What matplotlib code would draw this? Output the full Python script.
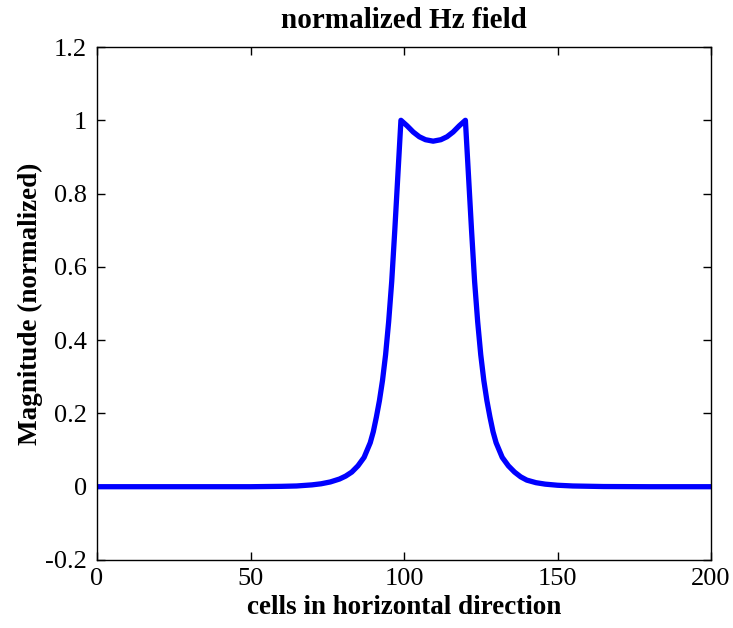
import matplotlib
matplotlib.use("Agg")
import matplotlib.pyplot as plt
from matplotlib.ticker import FixedLocator, FuncFormatter

# Data (cell index, normalized magnitude)
cells = [0, 20, 40, 50, 60, 65, 70, 73, 76, 79, 81, 83, 85, 87, 88, 89, 90, 91, 92,
         93, 94, 95, 96, 97, 98, 99,
         101, 103, 105, 107, 109.5, 112, 114, 116, 118, 120,
         121, 122, 123, 124, 125, 126, 127, 128, 129, 130, 131, 132, 134, 136, 138,
         140, 143, 146, 150, 155, 165, 180, 200]
magnitude = [0.0, 0.0, 0.0, 0.0, 0.001, 0.002, 0.005, 0.008, 0.013, 0.021, 0.029, 0.040,
             0.057, 0.080, 0.100, 0.120, 0.150, 0.190, 0.235,
             0.290, 0.360, 0.450, 0.560, 0.700, 0.850, 1.000,
             0.985, 0.968, 0.955, 0.947, 0.943, 0.947, 0.955, 0.968, 0.985, 1.000,
             0.850, 0.700, 0.560, 0.450, 0.360, 0.290, 0.235, 0.190, 0.150, 0.120, 0.100,
             0.080, 0.057, 0.040, 0.027, 0.018, 0.011, 0.007, 0.004, 0.002, 0.0005, 0.0, 0.0]

x_ticks = [0, 50, 100, 150, 200]
y_ticks = [-0.2, 0, 0.2, 0.4, 0.6, 0.8, 1.0, 1.2]

title = "normalized Hz field"
xlabel = "cells in horizontal direction"
ylabel = "Magnitude (normalized)"

fig = plt.figure(figsize=(7.33, 6.28), dpi=100)
ax = fig.add_axes([97/733, 68/628, (711-97)/733, (560-47)/628])

ax.plot(cells, magnitude, color=(0, 0, 1), linewidth=3.8, solid_joinstyle="round")

ax.set_xlim(0, 200)
ax.set_ylim(-0.2, 1.2)
ax.xaxis.set_major_locator(FixedLocator(x_ticks))
ax.yaxis.set_major_locator(FixedLocator(y_ticks))
fmt = FuncFormatter(lambda v, p: ("%g" % round(v, 4)).replace("\u2212", "-"))
ax.xaxis.set_major_formatter(fmt)
ax.yaxis.set_major_formatter(fmt)

ax.tick_params(direction="in", length=6, width=1, top=True, right=True, labelsize=19)
ax.tick_params(axis="x", pad=6)
ax.tick_params(axis="y", pad=7)
for lab in ax.get_xticklabels() + ax.get_yticklabels():
    lab.set_family("Liberation Serif")
for s in ax.spines.values():
    s.set_linewidth(1)

ax.set_title(title, fontsize=21, fontweight="bold", family="Liberation Serif", pad=14)
ax.set_xlabel(xlabel, fontsize=19.5, fontweight="bold", family="Liberation Serif", labelpad=3)
ax.set_ylabel(ylabel, fontsize=19.5, fontweight="bold", family="Liberation Serif", labelpad=2)

fig.savefig("out.png", dpi=100)
